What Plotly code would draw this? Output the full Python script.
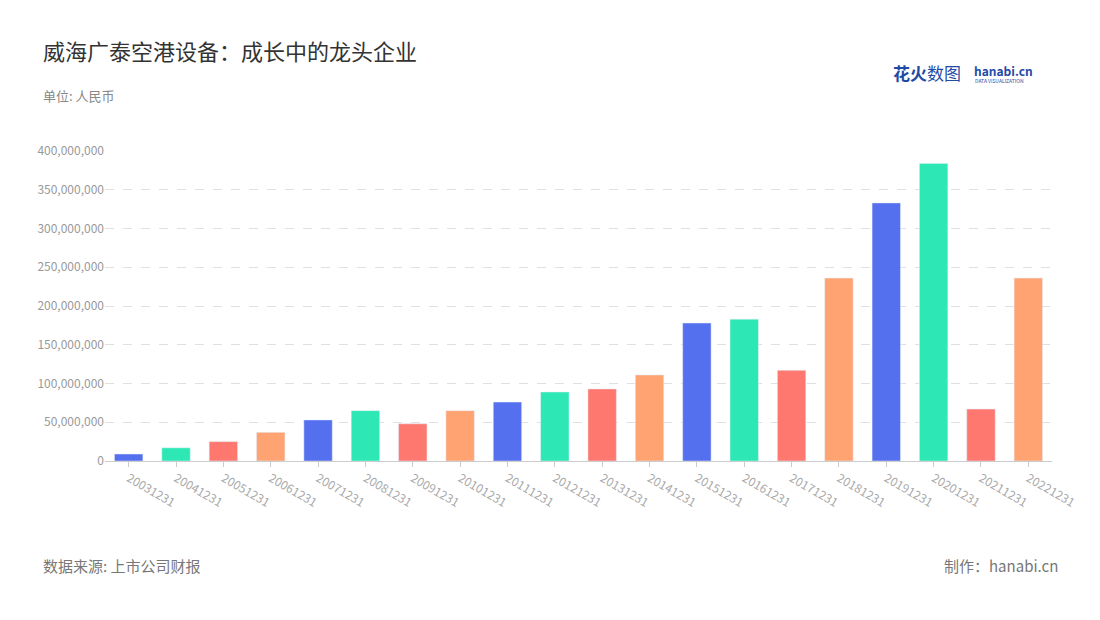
import plotly.graph_objects as go

categories = [str(y) + "1231" for y in range(2003, 2023)]
values = [9e6, 17e6, 25e6, 37e6, 53e6, 65e6, 48e6, 65e6, 76e6, 89e6,
          93e6, 111e6, 178e6, 183e6, 117e6, 236e6, 333e6, 384e6, 67e6, 236e6]
palette = ["#5470EE", "#2DE8B4", "#FF7870", "#FFA373"]
colors = [palette[i % 4] for i in range(len(categories))]
tick_vals = [i * 50e6 for i in range(9)]
tick_text = ["0"] + [f"{int(v):,}" for v in tick_vals[1:]]

# page offset of the rendered figure
OX, OY = 10, 7
L, R, T, B = 97, 56, 143, 167
PW, PH = 1100 - L - R, 620 - T - B


def paper(px, py):
    return (px - OX - L) / PW, 1 - (py - OY - T) / PH


fig = go.Figure()
fig.add_trace(go.Bar(x=categories, y=values, marker_color=colors, width=0.6,
                     hovertemplate="%{x}<br>%{y:,.0f}<extra></extra>"))

fig.update_layout(
    width=1100, height=620, plot_bgcolor="white", paper_bgcolor="white",
    margin=dict(l=L, r=R, t=T, b=B),
    font=dict(family="Noto Sans CJK SC", color="#999"),
    showlegend=False,
)

anns = [
    ("威海广泰空港设备：成长中的龙头企业", 43, 31, 22, "#333", "left"),
    ("单位: 人民币", 43, 83, 13, "#888", "left"),
    ("数据来源: 上市公司财报", 43, 552, 15, "#777", "left"),
    ("制作：hanabi.cn", 1062, 552, 15, "#777", "right"),
    ("<b>花火</b>数图", 893, 57, 17, "#1F4BA5", "left"),
    ("<b>hanabi.cn</b>", 974, 59, 12, "#1F4BA5", "left"),
    ("DATA VISUALIZATION", 975, 74, 5, "#1F4BA5", "left"),
]
for t, x, y, s, c, a in anns:
    ax, ay = paper(x, y)
    fig.add_annotation(text=t, x=ax, y=ay, xref="paper", yref="paper",
                       xanchor=a, yanchor="top", showarrow=False,
                       font=dict(size=s, color=c))

fig.update_xaxes(tickangle=30, tickfont=dict(size=12, color="#aaa"), showline=True,
                 linecolor="#ccc", ticks="outside", tickcolor="#ccc", ticklen=5)
fig.update_yaxes(range=[0, 400e6], tickvals=tick_vals, ticktext=tick_text,
                 tickfont=dict(size=12, color="#999"), gridcolor="#e0e0e0", griddash="dash",
                 zeroline=False)

fig.write_html("out.html")
